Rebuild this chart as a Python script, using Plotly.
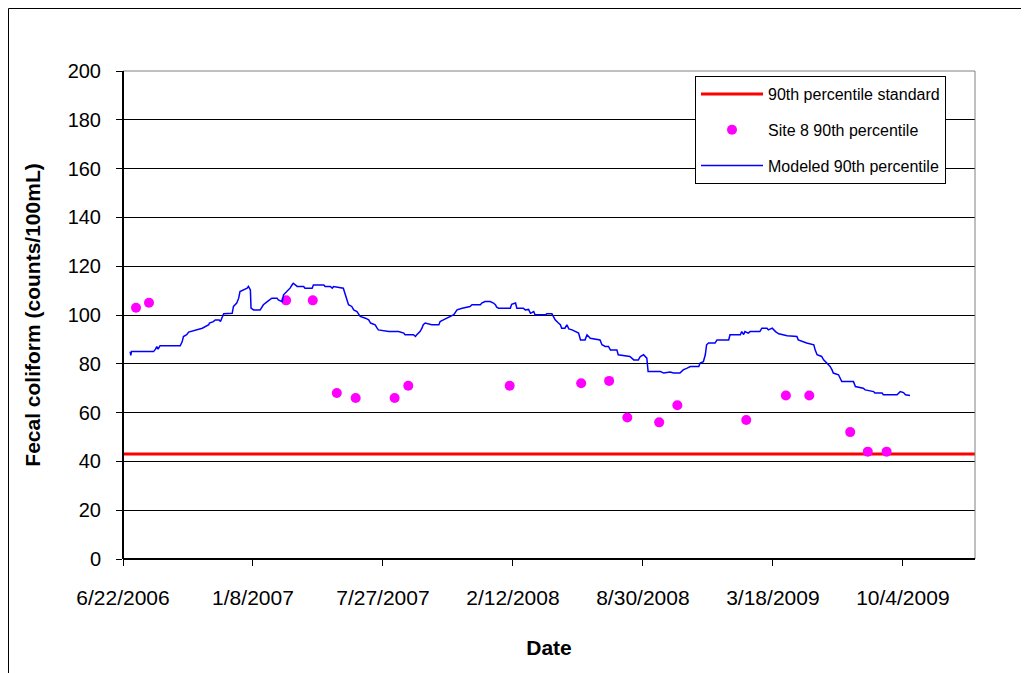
import pandas as pd
import plotly.graph_objects as go

START = "2006-06-22"
X_END = "2010-01-23"
TICK_LABELS = ["6/22/2006", "1/8/2007", "7/27/2007", "2/12/2008",
               "8/30/2008", "3/18/2009", "10/4/2009"]
Y_TICKS = [0, 20, 40, 60, 80, 100, 120, 140, 160, 180, 200]

STANDARD_VALUE = 43

# Site 8 90th percentile (days since START, value)
site_days = [20, 40, 251, 292, 329, 358, 418, 439, 595, 705, 748, 776, 825,
             853, 959, 1020, 1056, 1119, 1146, 1175]
site_vals = [103, 105, 106, 106, 68, 66, 66, 71, 71, 72, 73, 58, 56,
             63, 57, 67, 67, 52, 44, 44]

# Modeled 90th percentile (days since START, value)
model_days = [11, 12, 13, 47, 50, 52, 54, 57, 88, 91, 93, 98, 101, 111, 122,
              132, 133, 139, 142, 148, 150, 152, 155, 168, 170, 175, 178, 180,
              191, 193, 196, 197, 201, 211, 216, 222, 229, 237, 239, 245, 247,
              252, 257, 260, 262, 268, 278, 280, 291, 293, 309, 311, 319, 322,
              324, 339, 342, 345, 347, 352, 355, 360, 365, 373, 378, 381, 388,
              391, 393, 409, 424, 432, 434, 447, 450, 452, 457, 460, 462, 465,
              475, 486, 488, 493, 498, 504, 509, 514, 522, 534, 537, 550, 552,
              557, 565, 570, 573, 575, 578, 596, 598, 604, 606, 616, 619, 624,
              627, 632, 634, 650, 652, 660, 662, 665, 670, 673, 675, 680, 683,
              686, 691, 696, 701, 704, 711, 714, 719, 734, 737, 742, 747, 750,
              760, 762, 780, 786, 793, 796, 801, 806, 808, 827, 832, 842, 847,
              857, 862, 868, 873, 886, 888, 893, 896, 898, 901, 911, 914, 932,
              934, 950, 952, 955, 957, 962, 965, 980, 983, 991, 993, 999, 1004,
              1009, 1022, 1037, 1039, 1052, 1063, 1065, 1068, 1075, 1078, 1083,
              1088, 1091, 1093, 1101, 1104, 1106, 1124, 1127, 1139, 1142, 1155,
              1157, 1168, 1170, 1191, 1196, 1201, 1204, 1211]
model_vals = [85.0, 83.5, 85.0, 85.0, 86.0, 87.0, 86.0, 87.4, 87.4, 89.0, 91.2,
              91.9, 93.0, 93.9, 94.6, 96.0, 96.7, 97.3, 98.0, 98.0, 97.3, 98.7,
              100.5, 100.7, 103.5, 104.9, 106.9, 109.6, 111.0, 111.7, 110.3,
              102.8, 102.1, 102.1, 104.2, 105.5, 106.9, 106.9, 106.2, 105.5,
              108.3, 109.6, 111.0, 112.3, 113.0, 111.7, 111.7, 111.0, 111.0,
              112.3, 112.3, 111.7, 111.7, 111.0, 111.7, 111.0, 108.3, 105.5,
              104.2, 103.5, 102.1, 101.4, 99.4, 98.7, 98.0, 96.7, 96.0, 94.6,
              93.9, 93.2, 93.2, 92.6, 91.9, 91.9, 91.2, 91.9, 93.2, 94.6, 96.0,
              96.7, 96.0, 96.0, 97.3, 98.0, 98.7, 99.4, 100.1, 102.1, 102.8,
              103.5, 104.2, 104.2, 104.9, 105.5, 105.5, 104.9, 104.2, 103.2,
              102.8, 102.8, 104.4, 104.9, 102.8, 102.8, 102.1, 102.3, 100.7,
              101.4, 100.1, 100.1, 100.5, 100.5, 99.4, 98.0, 96.7, 96.0, 94.6,
              94.6, 96.0, 94.3, 93.9, 93.2, 92.6, 89.8, 89.8, 91.9, 90.5, 89.8,
              87.8, 87.1, 87.1, 85.7, 85.7, 83.7, 83.0, 81.6, 81.6, 83.0, 83.7,
              82.3, 76.8, 76.8, 76.2, 76.6, 76.2, 76.2, 77.5, 78.2, 78.9, 78.9,
              80.3, 80.9, 83.7, 87.8, 88.5, 88.5, 89.8, 89.8, 91.9, 91.9, 93.2,
              92.0, 93.2, 92.6, 93.2, 93.2, 94.6, 94.6, 93.9, 94.6, 93.2, 92.3,
              91.5, 91.2, 89.8, 88.5, 87.8, 85.7, 83.7, 83.0, 81.6, 80.3, 78.9,
              77.5, 76.2, 75.5, 74.1, 72.7, 72.7, 70.7, 70.0, 69.3, 68.6, 68.0,
              68.0, 67.3, 67.3, 68.6, 68.2, 67.3, 67.0]

start = pd.Timestamp(START)
site_dates = start + pd.to_timedelta(site_days, unit="D")
model_dates = start + pd.to_timedelta(model_days, unit="D")
tick_dates = pd.to_datetime(TICK_LABELS, format="%m/%d/%Y")

FONT = "Liberation Sans, Arial, sans-serif"

# plot-area geometry (figure pixels)
L, R, T, B = 115, 62, 63, 122
PW = 1029 - L - R
PH = 673 - T - B

fig = go.Figure()
fig.add_trace(go.Scatter(
    x=[start, pd.Timestamp(X_END)], y=[STANDARD_VALUE, STANDARD_VALUE],
    mode="lines", line=dict(color="#FF0000", width=3),
    name="90th percentile standard", legendgroup="a", cliponaxis=False))
fig.add_trace(go.Scatter(
    x=site_dates, y=site_vals, mode="markers",
    marker=dict(color="#FF00FF", size=10, line=dict(width=0)),
    name="Site 8 90th percentile", legendgroup="b"))
fig.add_trace(go.Scatter(
    x=model_dates, y=model_vals, mode="lines",
    line=dict(color="#0000FF", width=1.5),
    name="Modeled 90th percentile", legendgroup="c"))

fig.update_layout(
    width=1029, height=673,
    margin=dict(l=L, r=R, t=T, b=B, autoexpand=False),
    paper_bgcolor="white", plot_bgcolor="white",
    font=dict(family=FONT, color="black", size=20),
    showlegend=True,
    legend=dict(x=(687 - L) / PW, y=(PH + T - 68) / PH,
                xanchor="left", yanchor="top",
                bgcolor="white", bordercolor="black", borderwidth=1,
                font=dict(size=16, family=FONT, color="black"),
                tracegroupgap=12, traceorder="grouped", itemwidth=62),
    shapes=[
        dict(type="rect", xref="paper", yref="paper", x0=0, x1=1, y0=0, y1=1,
             line=dict(color="#808080", width=1), layer="above"),
        dict(type="line", xref="paper", yref="paper", x0=0, x1=0, y0=0, y1=1,
             line=dict(color="black", width=2), layer="above"),
        dict(type="line", xref="paper", yref="paper", x0=0, x1=1, y0=0, y1=0,
             line=dict(color="black", width=2), layer="above"),
        dict(type="rect", xref="paper", yref="paper",
             x0=(0.5 - L) / PW, x1=1.1, y0=-0.3, y1=(PH + T - 0.5) / PH,
             line=dict(color="black", width=1), layer="below"),
    ],
)

fig.update_xaxes(
    type="date", range=[start, pd.Timestamp(X_END)],
    tickvals=tick_dates, ticktext=TICK_LABELS,
    ticks="outside", ticklen=6, tickcolor="black", tickwidth=1,
    showgrid=False, showline=False, zeroline=False,
    ticklabelstandoff=14,
    tickfont=dict(size=21, family=FONT),
    title=dict(text="<b>Date</b>", font=dict(size=21, family=FONT), standoff=32),
)
fig.update_yaxes(
    range=[0, 200], tickvals=Y_TICKS,
    ticks="outside", ticklen=6, tickcolor="black", tickwidth=1,
    showgrid=True, gridcolor="black", gridwidth=1,
    showline=False, zeroline=False,
    ticklabelstandoff=11,
    tickfont=dict(size=20, family=FONT),
    title=dict(text="<b>Fecal coliform (counts/100mL)</b>",
               font=dict(size=21, family=FONT), standoff=21),
)

fig.write_html("out.html")
